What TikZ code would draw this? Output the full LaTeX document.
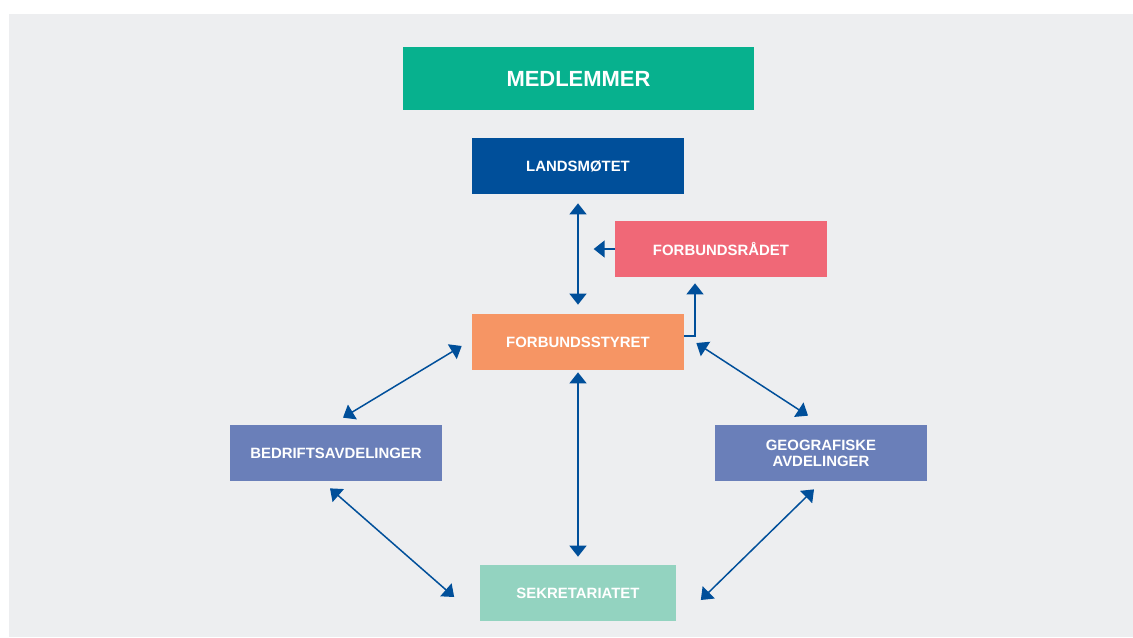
\documentclass[tikz,border=0pt]{standalone}
\usepackage{fontspec}
\setmainfont{Liberation Sans}
\usepackage{tikz}
\usetikzlibrary{arrows.meta}

\definecolor{bggray}{HTML}{EDEEF0}
\definecolor{medgreen}{HTML}{07B18E}
\definecolor{landblue}{HTML}{004F9A}
\definecolor{raadred}{HTML}{F06877}
\definecolor{styrorange}{HTML}{F69564}
\definecolor{avdblue}{HTML}{6A7FB9}
\definecolor{sekmint}{HTML}{93D3C0}

\tikzset{
  box/.style={rectangle, fill=#1, text=white, font=\fontsize{8.5}{9}\selectfont\bfseries,
    minimum width=4.24cm, minimum height=1.12cm, inner sep=0pt, align=center},
  link/.style={draw=landblue, line width=0.85pt, {Triangle[length=0.22cm,width=0.34cm]}-{Triangle[length=0.22cm,width=0.34cm]}},
  onelink/.style={draw=landblue, line width=0.85pt, -{Triangle[length=0.22cm,width=0.34cm]}}
}

\begin{document}
\begin{tikzpicture}[x=0.02cm, y=-0.02cm]
        \useasboundingbox (0,0) rectangle (1133,637);
        \fill[bggray] (9,14) rectangle (1133,637);

        \node[box=medgreen, minimum width=7.02cm, minimum height=1.26cm, font=\fontsize{12.5}{14}\selectfont\bfseries] (M) at (578.5,78.5) {MEDLEMMER};
        \node[box=landblue] (L) at (578,166) {LANDSMØTET};
        \node[box=raadred] (R) at (721,249) {FORBUNDSRÅDET};
        \node[box=styrorange] (S) at (578,342) {FORBUNDSSTYRET};
        \node[box=avdblue] (B) at (336,453) {BEDRIFTSAVDELINGER};
        \node[box=avdblue] (G) at (821,453) {GEOGRAFISKE\\AVDELINGER};
        \node[box=sekmint, minimum width=3.94cm] (K) at (578,593) {SEKRETARIATET};

        % Edge
        \draw[link, shorten <=0.18cm, shorten >=0.18cm] (L.south) -- (S.north);
        \draw[onelink] (R.west) -- ([shift={(-21,0)}]R.west);
        \draw[onelink] ([shift={(0,-6)}]S.east) -| ([shift={(-26,6)}]R.south);
        \draw[link] ([shift={(-10,4)}]S.west) -- ([shift={(7,-7)}]B.north);
        \draw[link] ([shift={(12,1)}]S.east) -- ([shift={(-13,-9)}]G.north);
        \draw[link, shorten <=0.04cm, shorten >=0.16cm] (S.south) -- (K.north);
        \draw[link] ([shift={(-6,7)}]B.south) -- ([shift={(-25,4)}]K.west);
        \draw[link] ([shift={(-7,8)}]G.south) -- ([shift={(24,7)}]K.east);
        \end{tikzpicture}
\end{document}
